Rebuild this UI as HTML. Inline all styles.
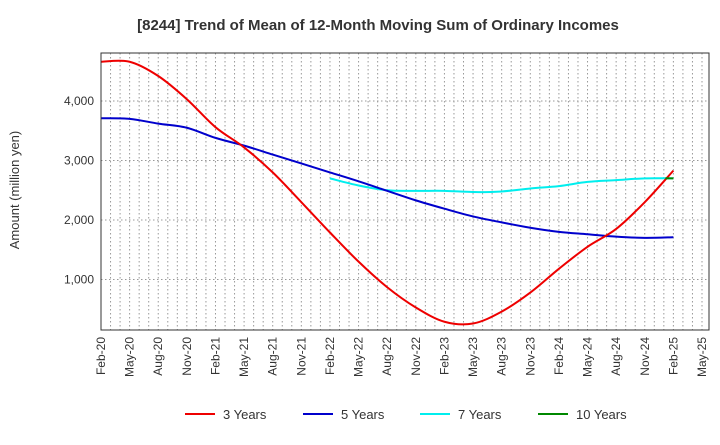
<!DOCTYPE html>
<html><head><meta charset="utf-8"><style>
body{margin:0;background:#fff;font-family:"Liberation Sans",sans-serif}
</style></head><body>
<svg id="c" width="720" height="440" xmlns="http://www.w3.org/2000/svg" font-family="Liberation Sans, sans-serif">
<text x="378" y="30" font-size="15" font-weight="bold" text-anchor="middle" fill="#333">[8244]  Trend of Mean of 12-Month Moving Sum of Ordinary Incomes</text>
<text transform="translate(19,190) rotate(-90)" font-size="13" text-anchor="middle" fill="#333">Amount (million yen)</text>
<g id="grid"></g><g id="series"></g><g id="axes"></g>
<g font-size="13" fill="#333">
<line x1="185" y1="414" x2="215" y2="414" stroke="#e00" stroke-width="2"/><text x="223" y="419">3 Years</text>
<line x1="303" y1="414" x2="333" y2="414" stroke="#00c" stroke-width="2"/><text x="341" y="419">5 Years</text>
<line x1="420" y1="414" x2="450" y2="414" stroke="#0ee" stroke-width="2"/><text x="458" y="419">7 Years</text>
<line x1="538" y1="414" x2="568" y2="414" stroke="#080" stroke-width="2"/><text x="576" y="419">10 Years</text>
</g>
</svg>
<script>
const xLabels=["Feb-20","May-20","Aug-20","Nov-20","Feb-21","May-21","Aug-21","Nov-21","Feb-22","May-22","Aug-22","Nov-22","Feb-23","May-23","Aug-23","Nov-23","Feb-24","May-24","Aug-24","Nov-24","Feb-25","May-25"];
const yTicks=[1000,2000,3000,4000];
const y3=[4660,4660,4420,4030,3560,3220,2800,2300,1790,1300,870,530,290,260,460,780,1180,1550,1850,2300,2830];
const y5=[3710,3700,3620,3550,3380,3250,3100,2950,2800,2650,2490,2330,2190,2060,1960,1870,1800,1760,1720,1700,1710];
const y7=[null,null,null,null,null,null,null,null,2700,2580,2500,2490,2490,2470,2480,2530,2570,2640,2670,2700,2700];
const y10=[null,null,null,null,null,null,null,null,null,null,null,null,null,null,null,null,null,null,null,null,2700];
const NS="http://www.w3.org/2000/svg";
const L=101,R=709,T=53,B=330,XE=702;
const X=i=>L+i*(XE-L)/(xLabels.length-1);
const Y=v=>339-v*0.0595;
function mk(t,a,p){const e=document.createElementNS(NS,t);for(const k in a)e.setAttribute(k,a[k]);p.appendChild(e);return e;}
const g=document.getElementById('grid'),ax=document.getElementById('axes'),s=document.getElementById('series');
for(let m=1;m<=63;m++){const x=L+m*(XE-L)/63;const l=mk('line',{x1:x,x2:x,y1:T,y2:B,stroke:'#999','stroke-dasharray':'1.5,2.5'},g);

}
yTicks.forEach(v=>{const l=mk('line',{x1:L,x2:R,y1:Y(v),y2:Y(v),stroke:'#999','stroke-dasharray':'1.5,2.5'},g);


const t=mk('text',{x:L-7,y:Y(v)+4,'font-size':12,'text-anchor':'end',fill:'#333'},ax);t.textContent=v.toLocaleString('en-US');

});
const fr=mk('rect',{x:L,y:T,width:R-L,height:B-T,fill:'none',stroke:'#333'},ax);


xLabels.forEach((lb,i)=>{const t=mk('text',{transform:`translate(${X(i)+4},337) rotate(-90)`,'font-size':12,'text-anchor':'end',fill:'#333'},ax);t.textContent=lb;

});
function path(arr,col,name){const p=[];arr.forEach((v,i)=>{if(v!=null)p.push([X(i),Y(v)]);});
let d;
if(p.length===1){d=`M${p[0][0]-8},${p[0][1]}L${p[0][0]},${p[0][1]}`;}
else{d=`M${p[0][0]},${p[0][1]}`;for(let i=0;i<p.length-1;i++){const p0=p[i-1]||p[i],p1=p[i],p2=p[i+1],p3=p[i+2]||p2;
d+=`C${p1[0]+(p2[0]-p0[0])/6},${p1[1]+(p2[1]-p0[1])/6} ${p2[0]-(p3[0]-p1[0])/6},${p2[1]-(p3[1]-p1[1])/6} ${p2[0]},${p2[1]}`;}}
const e=mk('path',{d:d,fill:'none',stroke:col,'stroke-width':2},s);

}
path(y7,'#0ee','line-7-years');path(y5,'#00c','line-5-years');path(y3,'#e00','line-3-years');path(y10,'#080','line-10-years');
</script>
</body></html>
